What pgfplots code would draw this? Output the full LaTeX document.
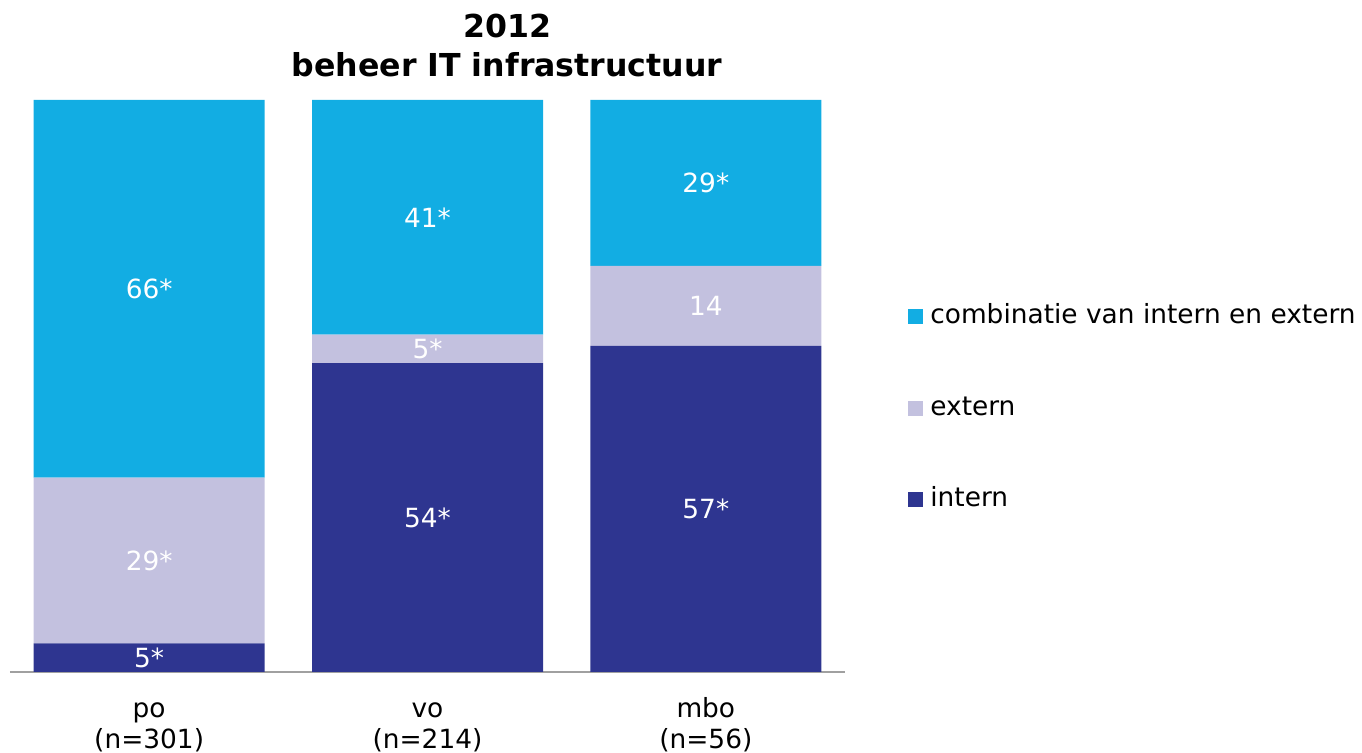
\documentclass[border=0pt]{standalone}
\usepackage{pgfplots}
\pgfplotsset{compat=1.18}
\usepackage{fontspec}
\setmainfont{DejaVu Sans}
\definecolor{cComb}{RGB}{18,173,227}
\definecolor{cExt}{RGB}{195,193,223}
\definecolor{cInt}{RGB}{46,53,144}
\definecolor{cAxis}{RGB}{160,160,160}

% label positions = middle of each stacked segment
\pgfplotstableread{
x y label
0 2.5 5*
0 19.5 29*
0 67 66*
1 27 54*
1 56.5 5*
1 79.5 41*
2 28.5 57*
2 64 14
2 85.5 29*
}\labeltab

\begin{document}
\begin{tikzpicture}
\pgfplotsset{
  base/.style={
    at={(5pt,40.5pt)}, anchor=south west,
    scale only axis, width=417.5pt, height=286pt,
    xmin=-0.5, xmax=2.5, ymin=0, ymax=100,
  }
}
\begin{axis}[base,
    ybar stacked, bar width=115.5pt,
    axis x line*=bottom, axis y line=none,
    x axis line style={cAxis, line width=1pt},
    xtick={0,1,2},
    xticklabels={{\strut po\\\strut(n=301)},{\strut vo\\\strut(n=214)},{\strut mbo\\\strut(n=56)}},
    xtick style={draw=none},
    xticklabel style={align=center, anchor=north, inner sep=0pt, yshift=-11.6pt,
        font=\fontsize{13.2}{15.5}\selectfont},
    reverse legend,
    legend image code/.code={\fill[#1,draw=none] (0pt,-3.75pt) rectangle (7.5pt,3.75pt);},
    legend style={at={(1.0754,0.4615)}, anchor=west, draw=none, fill=none,
        inner sep=0pt, column sep=3.5pt, row sep=33.75pt,
        nodes={inner sep=0pt, text height=9.5pt, text depth=2.5pt},
        font=\fontsize{13.2}{15.5}\selectfont},
    legend cell align=left,
]
\addplot[fill=cInt, draw=none] coordinates {(0,5) (1,54) (2,57)};
\addlegendentry{intern}
\addplot[fill=cExt, draw=none] coordinates {(0,29) (1,5) (2,14)};
\addlegendentry{extern}
\addplot[fill=cComb, draw=none] coordinates {(0,66) (1,41) (2,29)};
\addlegendentry{combinatie van intern en extern}
\end{axis}
\begin{axis}[base, hide axis, clip=false]
\addplot[draw=none, mark=none, nodes near coords, point meta=explicit symbolic,
    nodes near coords style={white, anchor=center, inner sep=0pt,
        font=\fontsize{13.2}{15.5}\selectfont}]
    table[x=x, y=y, meta=label] {\labeltab};
\end{axis}
\node[anchor=base, font=\bfseries\fontsize{15.8}{19}\selectfont] at (253.5pt,357.5pt) {2012};
\node[anchor=base, font=\bfseries\fontsize{15.8}{19}\selectfont] at (253.5pt,338pt) {beheer IT infrastructuur};
\pgfresetboundingbox
\useasboundingbox (0,0) rectangle (681pt,376.5pt);
\end{tikzpicture}
\end{document}
